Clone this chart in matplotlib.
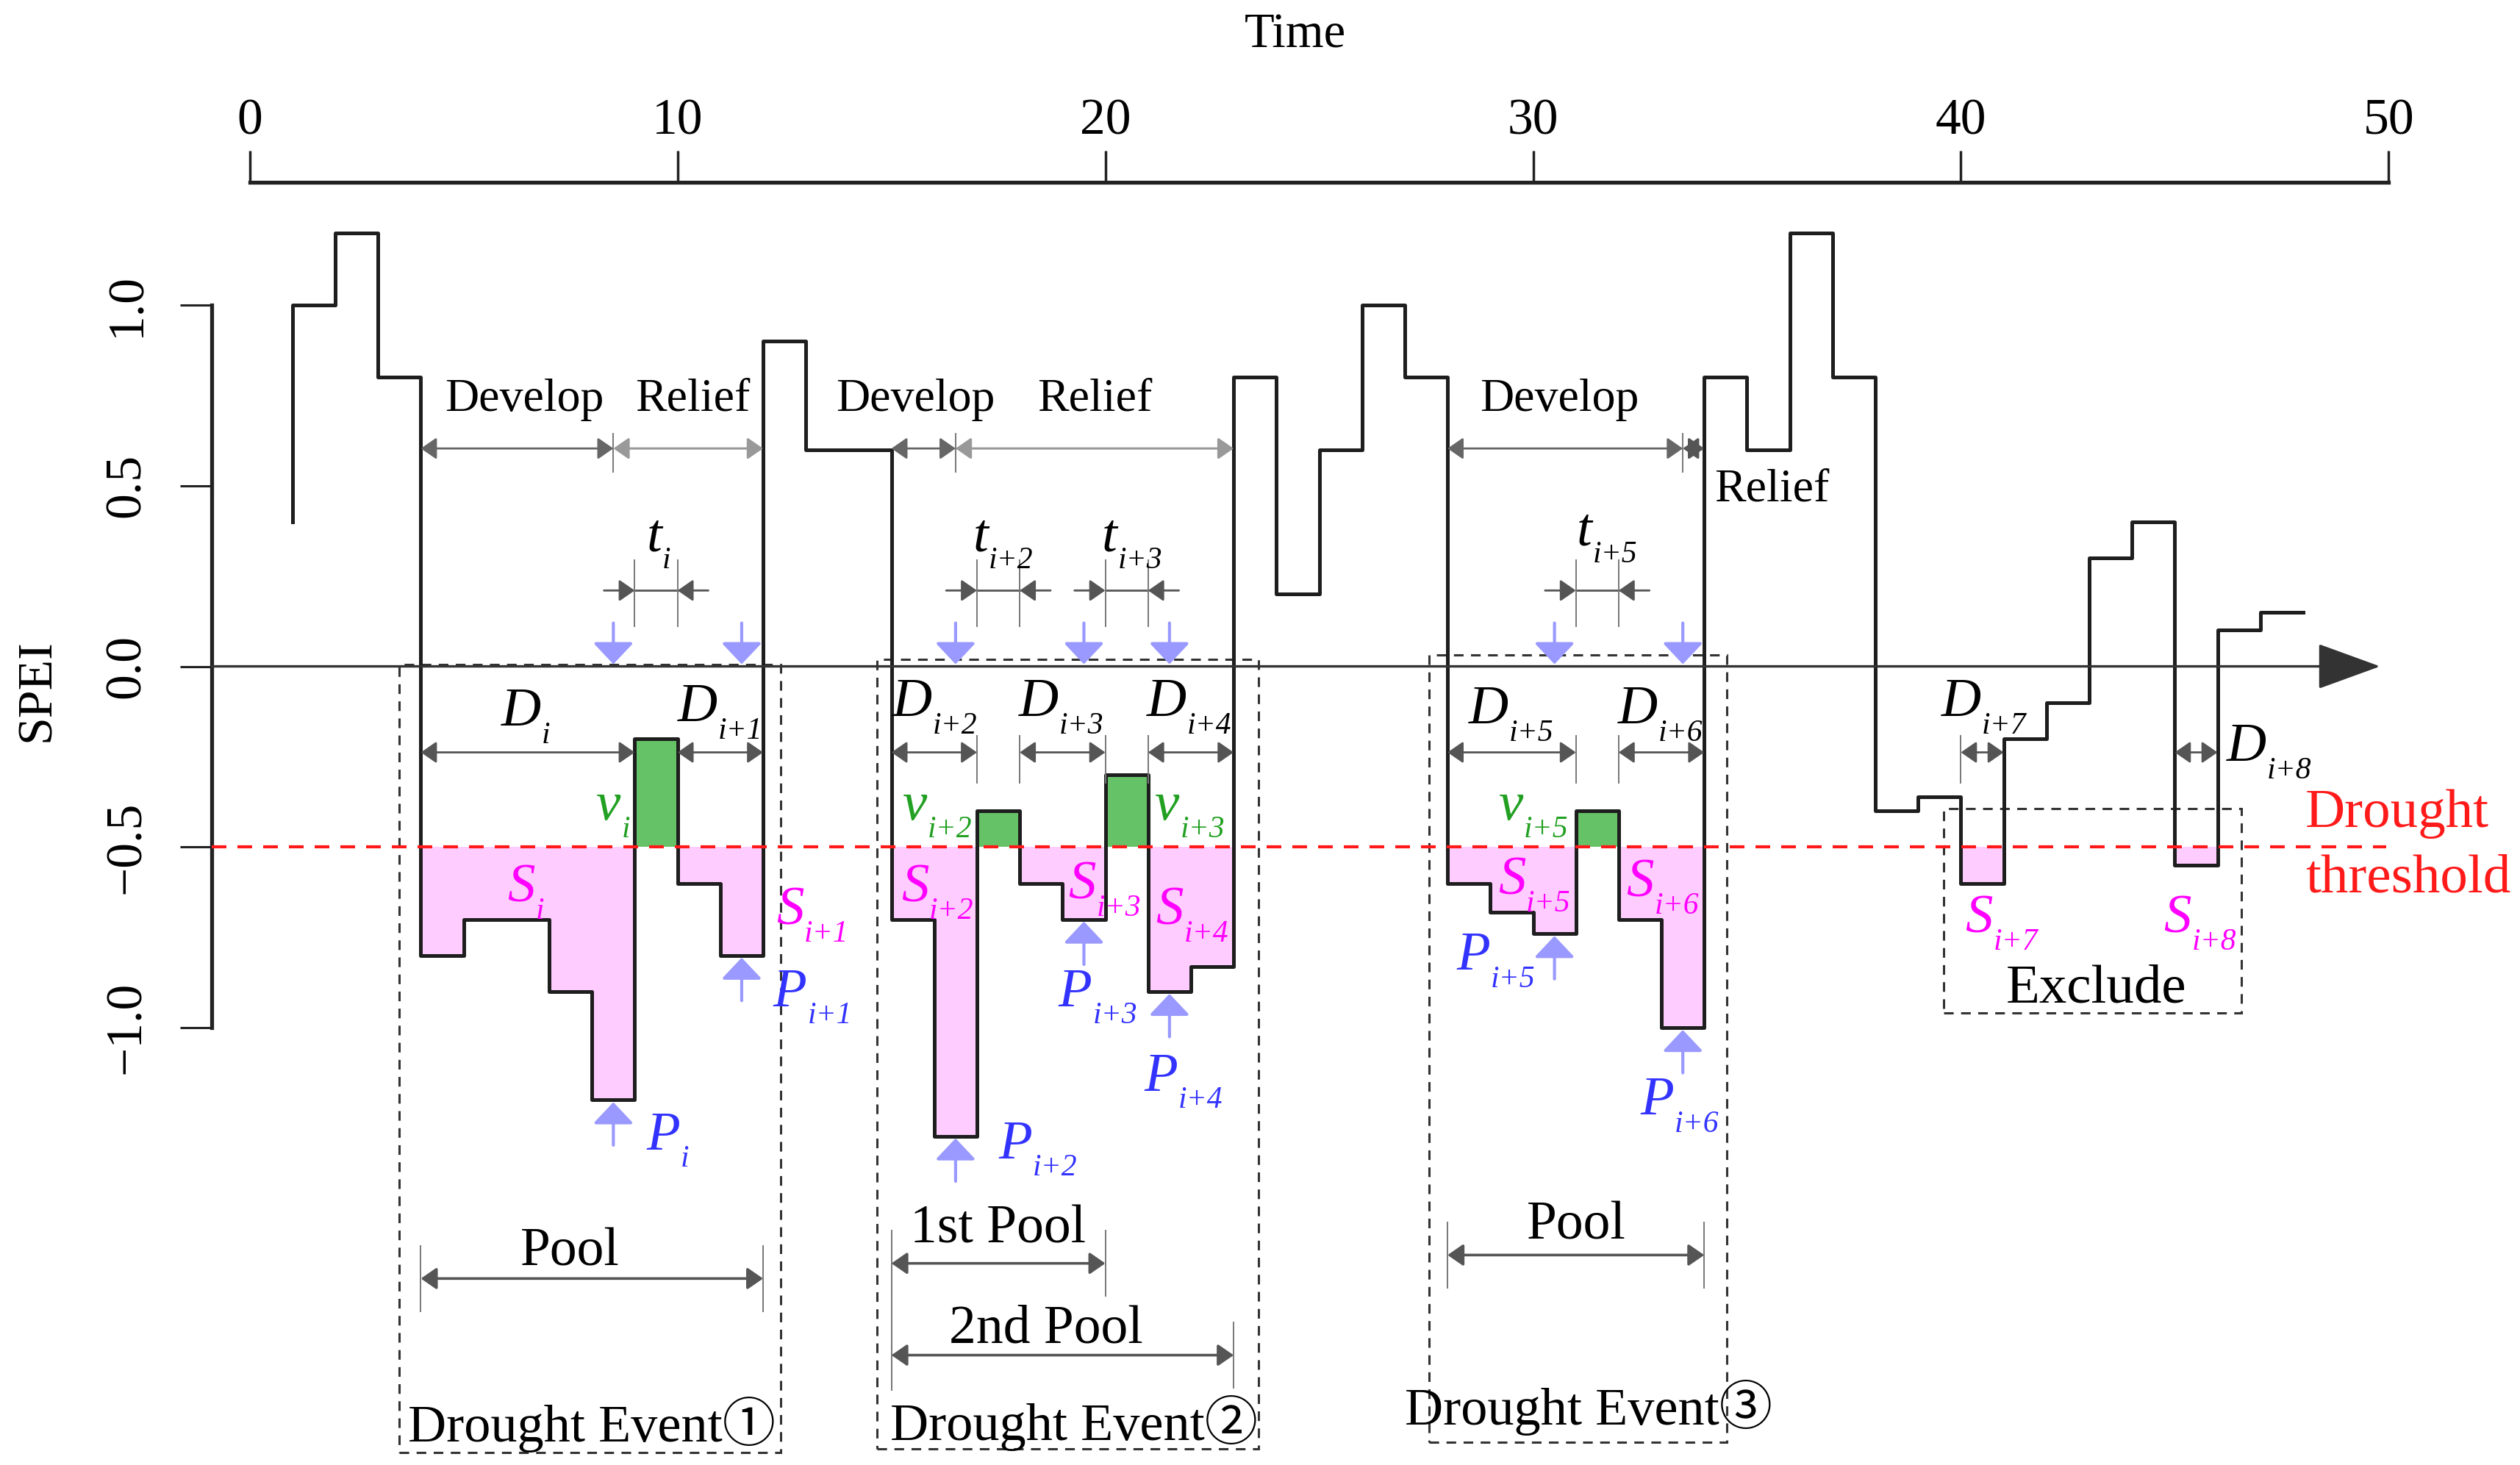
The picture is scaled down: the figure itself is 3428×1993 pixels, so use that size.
import numpy as np
import matplotlib.pyplot as plt
from matplotlib.patches import FancyArrowPatch, Rectangle

# SPEI value held from time t to t+1 (step series)
time_edges = list(range(1, 49))
spei = [1.0, 1.2, 0.8, -0.8, -0.7, -0.7, -0.9, -1.2, -0.2, -0.6,
        -0.8, 0.9, 0.6, 0.6, -0.7, -1.3, -0.4, -0.6, -0.7, -0.3,
        -0.9, -0.83, 0.8, 0.2, 0.6, 1.0, 0.8, -0.6, -0.68, -0.74,
        -0.4, -0.7, -1.0, 0.8, 0.6, 1.2, 0.8, -0.4, -0.36, -0.6,
        -0.2, -0.1, 0.3, 0.4, -0.55, 0.1, 0.15]
start_spei = 0.4
threshold = -0.5
n_events = 3

time_ticks = [0, 10, 20, 30, 40, 50]
spei_ticks = [-1.0, -0.5, 0.0, 0.5, 1.0]
spei_tick_labels = ['\u22121.0', '\u22120.5', '0.0', '0.5', '1.0']
event_labels = ['Drought Event\u2460', 'Drought Event\u2461', 'Drought Event\u2462']

PINK = '#FFCCFF'
GREEN = '#66C266'
MAG = '#FF00FF'
BLUE = '#3333FF'
LBLUE = '#9999FF'
VGREEN = '#22A022'
RED = '#FF1A1A'
GRAY = '#555555'
LGRAY = '#999999'
INK = '#1e1e1e'

plt.rcParams['font.family'] = ['Liberation Serif', 'DejaVu Sans']

vals = np.array(spei)
edges = np.array(time_edges)
left = edges[:-1]

# runs below threshold = sub-droughts
dry = vals < threshold
runs = []
i = 0
while i < len(vals):
    if dry[i]:
        j = i
        while j < len(vals) and dry[j]:
            j += 1
        runs.append((i, j))
        i = j
    else:
        i += 1

# gaps between sub-droughts that stay negative are pooled
pooled = []
groups = [[0]]
for k in range(1, len(runs)):
    a, b = runs[k - 1][1], runs[k][0]
    if np.all(vals[a:b] < 0):
        pooled.append((k - 1, a, b))
        groups[-1].append(k)
    else:
        groups.append([k])
events = groups[:n_events]

fig = plt.figure(figsize=(34.28, 19.93), dpi=100)
ax = fig.add_axes([0, 0, 1, 1])
ax.set_xlim(-5.838, 53.07)
ax.set_ylim(-2.210, 1.844)
spine_x = -0.883

# axes
for s in ['bottom', 'right']:
    ax.spines[s].set_visible(False)
ax.spines['left'].set_position(('data', spine_x))
ax.spines['left'].set_bounds(-1, 1)
ax.spines['top'].set_position(('data', 1.340))
ax.spines['top'].set_bounds(0, 50)
for s in ['left', 'top']:
    ax.spines[s].set_linewidth(3.8)
    ax.spines[s].set_color('#222222')
ax.xaxis.tick_top()
ax.set_xticks(time_ticks)
ax.set_yticks(spei_ticks)
ax.set_yticklabels(spei_tick_labels, rotation=90, va='center')
ax.tick_params(axis='x', length=31, width=2.5, pad=5, labelsize=50, color='#222222')
ax.tick_params(axis='y', length=31, width=2.2, pad=29, labelsize=50, color='#222222')
ax.set_xlabel('Time', fontsize=48)
ax.xaxis.set_label_position('top')
ax.xaxis.set_label_coords(0.514, 0.9675)
ax.set_ylabel('SPEI', fontsize=49)
ax.yaxis.set_label_coords(0.0237, 0.529)

# fills
ax.bar(left[dry], vals[dry] - threshold, bottom=threshold, width=1, align='edge',
       color=PINK, linewidth=0, zorder=2)
gap_idx = [a for _, a, b in pooled]
ax.bar(left[gap_idx], vals[gap_idx] - threshold, bottom=threshold, width=1,
       align='edge', color=GREEN, linewidth=0, zorder=2)

# step line
xs = [time_edges[0]] + time_edges
ys = [start_spei] + spei + [spei[-1]]
ax.step(xs, ys, where='post', color=INK, lw=3.6, zorder=5)


def arrow(p0, p1, style, color, lw, hl, hw, z=8):
    ax.add_patch(FancyArrowPatch(p0, p1, arrowstyle=f'{style},head_length={hl},head_width={hw}',
                                 mutation_scale=1, color=color, lw=lw,
                                 shrinkA=0, shrinkB=0, zorder=z))


def vtick(x, y0, y1):
    ax.plot([x, x], [y0, y1], color='#777777', lw=1.4, zorder=8)


# zero axis with arrow and threshold
arrow((spine_x, 0), (49.8, 0), '-|>', '#333333', 2.4, 55, 20, z=6)
ax.plot([spine_x, 49.95], [threshold, threshold], color=RED, lw=3,
        ls=(0, (4.8, 3.6)), zorder=7)

# dashed boxes
boxes = [(3.5, 12.42, 0.006, -2.176), (14.66, 23.58, 0.02, -2.165),
         (27.57, 34.52, 0.032, -2.147), (39.6, 46.55, -0.394, -0.958)]
for x0, x1, top, bot in boxes:
    ax.add_patch(Rectangle((x0, bot), x1 - x0, top - bot, fill=False, ec='#333333',
                           lw=2.2, ls=(0, (4.3, 3.3)), zorder=1))


def name(k):
    return 'i' if k == 0 else f'i+{k}'


HALF = {'D': 19.5, 'P': 16.5, 'S': 13.5, 't': 7.5, 'v': 12.0}


def sym(x, y, letter, k, color):
    ax.text(x, y, letter, ha='center', va='baseline', fontsize=54, style='italic',
            color=color, zorder=10)
    ax.annotate(name(k), (x, y), xytext=(HALF[letter] + 0.5, -17), textcoords='offset points',
                ha='left', va='baseline', fontsize=30, style='italic', color=color, zorder=10)


# duration arrows D
d_y = -0.238
for k, (a, b) in enumerate(runs):
    x0, x1 = edges[a], edges[b]
    arrow((x0, d_y), (x1, d_y), '<|-|>', GRAY, 2.0, 13, 9)
    for bnd in (a, b):
        lo = min(vals[bnd - 1], vals[bnd])
        hi = max(vals[bnd - 1], vals[bnd])
        if not (lo <= d_y <= hi):
            vtick(edges[bnd], d_y - 0.085, d_y + 0.045)

D_pos = [(6.35, -0.164), (10.47, -0.152), (15.49, -0.138), (18.44, -0.138), (21.44, -0.138),
         (28.96, -0.158), (32.45, -0.158), (40.0, -0.138), (46.67, -0.262)]
S_pos = [(6.35, -0.65), (12.63, -0.713), (15.55, -0.65), (19.46, -0.643), (21.5, -0.713),
         (29.5, -0.63), (32.5, -0.637), (40.42, -0.736), (45.06, -0.736)]
P_pos = [(9.66, -1.337), (12.63, -0.94), (17.9, -1.361), (19.3, -0.94), (21.3, -1.174),
         (28.6, -0.84), (32.9, -1.24)]
v_pos = [(8.39, -0.424), (15.55, -0.424), (21.45, -0.424), (29.48, -0.424)]
t_pos = [(9.45, 0.32), (17.08, 0.32), (20.1, 0.32), (31.2, 0.336)]

for k in range(len(runs)):
    sym(*D_pos[k], 'D', k, 'black')
    sym(*S_pos[k], 'S', k, MAG)

# peaks of pooled sub-droughts
event_runs = [k for g in events for k in g]
for n, k in enumerate(event_runs):
    a, b = runs[k]
    m = a + int(np.argmin(vals[a:b]))
    xp = edges[m] + 0.5
    arrow((xp, vals[m] - 0.125), (xp, vals[m] - 0.006), '-|>', LBLUE, 3.0, 18, 17)
    arrow((xp, 0.12), (xp, 0.006), '-|>', LBLUE, 3.0, 18, 17)
    sym(*P_pos[n], 'P', k, BLUE)

# inter-event times t and volumes v
t_y = 0.21
for n, (k, a, b) in enumerate(pooled):
    x0, x1 = edges[a], edges[b]
    ax.plot([x0, x1], [t_y, t_y], color=GRAY, lw=2.0, zorder=8)
    arrow((x0 - 0.72, t_y), (x0, t_y), '-|>', GRAY, 2.0, 13, 9)
    arrow((x1 + 0.72, t_y), (x1, t_y), '-|>', GRAY, 2.0, 13, 9)
    vtick(x0, t_y - 0.1, t_y + 0.085)
    vtick(x1, t_y - 0.1, t_y + 0.085)
    sym(*t_pos[n], 't', k, 'black')
    sym(*v_pos[n], 'v', k, VGREEN)

# develop / relief
dev_y = 0.603
dev_text = [(6.42, 10.35, 0.707), (15.56, 19.75, 0.707), (30.62, 35.58, 0.457)]
relief_colors = [LGRAY, LGRAY, GRAY]
for e, g in enumerate(events):
    a, b = runs[g[0]][0], runs[g[-1]][1]
    m = a + int(np.argmin(vals[a:b]))
    xs0, xp, xe = edges[a], edges[m] + 0.5, edges[b]
    arrow((xs0, dev_y), (xp, dev_y), '<|-|>', '#666666', 2.0, 13, 9)
    arrow((xp, dev_y), (xe, dev_y), '<|-|>', relief_colors[e], 2.2, 13, 9)
    vtick(xp, dev_y - 0.065, dev_y + 0.04)
    tx_d, tx_r, ty_r = dev_text[e]
    ax.text(tx_d, 0.707, 'Develop', ha='center', va='baseline', fontsize=46, zorder=10)
    ax.text(tx_r, ty_r, 'Relief', ha='center', va='baseline', fontsize=46, zorder=10)

# pools
pool_specs = [(events[0], -1.694, 'Pool', (7.48, -1.658)),
              (events[1][:2], -1.652, '1st Pool', (17.49, -1.594)),
              (events[1], -1.906, '2nd Pool', (18.62, -1.872)),
              (events[2], -1.629, 'Pool', (31.02, -1.584))]
for g, y, txt, (tx, ty) in pool_specs:
    x0, x1 = edges[runs[g[0]][0]], edges[runs[g[-1]][1]]
    arrow((x0, y), (x1, y), '<|-|>', GRAY, 2.6, 13, 9)
    vtick(x0, y - 0.09, y + 0.09)
    vtick(x1, y - 0.09, y + 0.09)
    ax.text(tx, ty, txt, ha='center', va='baseline', fontsize=53, zorder=10)
vtick(15, -2.003, -1.587)

ev_text = [(8.0, -2.144), (19.26, -2.140), (31.3, -2.099)]
for (tx, ty), lab in zip(ev_text, event_labels):
    ax.text(tx, ty, lab, ha='center', va='baseline', fontsize=52, zorder=10,
            family=['Liberation Serif', 'Noto Sans CJK JP', 'DejaVu Sans'])

ax.text(43.16, -0.929, 'Exclude', ha='center', va='baseline', fontsize=54, zorder=10)
ax.text(48.05, -0.445, 'Drought', ha='left', va='baseline', fontsize=54, color=RED, zorder=10)
ax.text(48.05, -0.624, 'threshold', ha='left', va='baseline', fontsize=54, color=RED, zorder=10)

fig.savefig('out.png', dpi=100)
